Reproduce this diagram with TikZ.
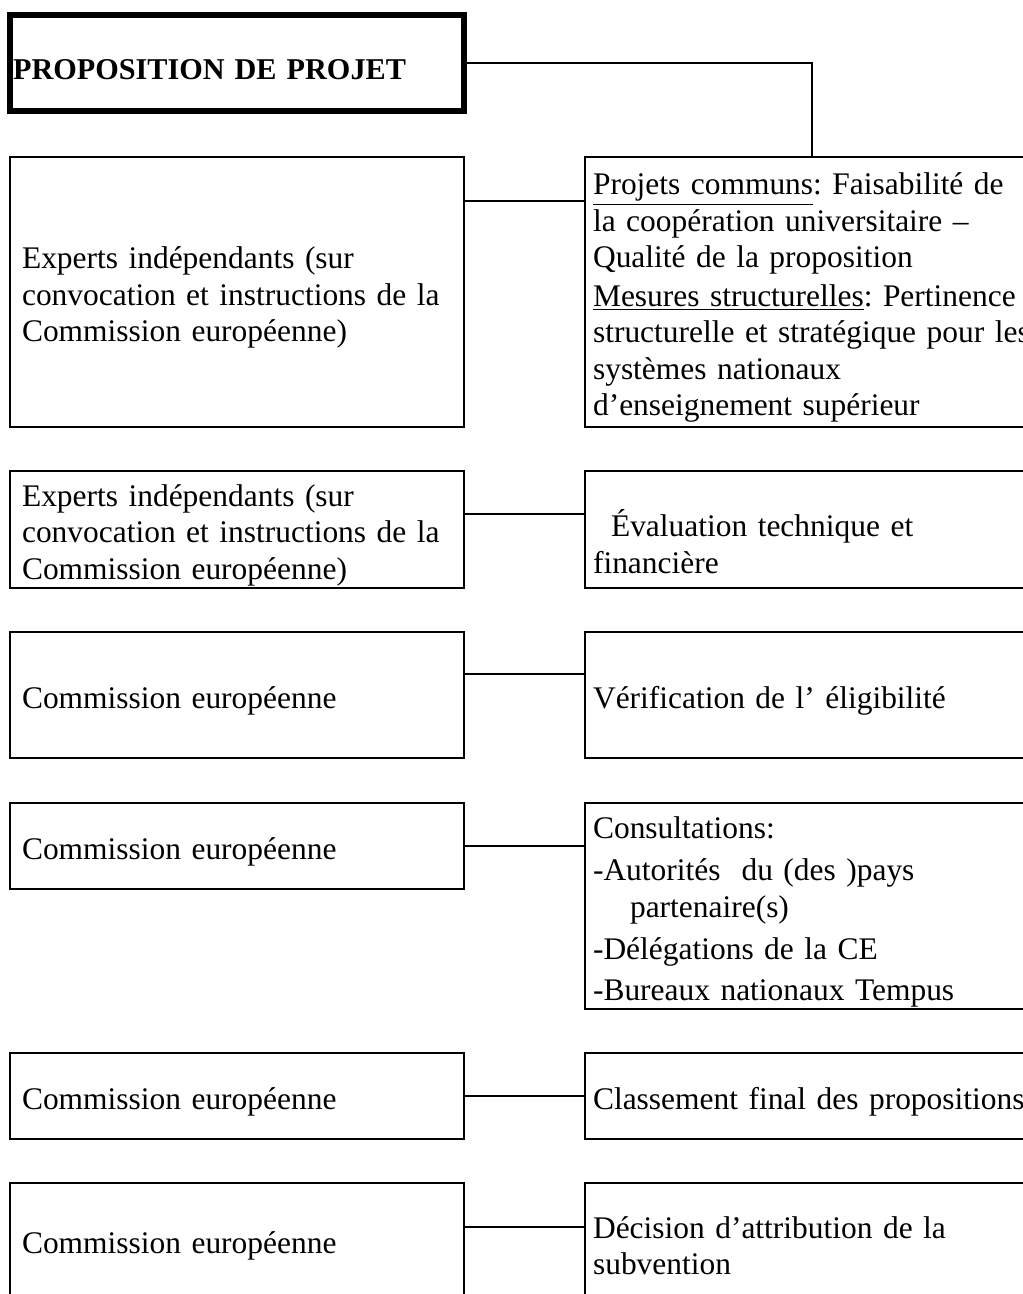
\documentclass[tikz,border=0pt]{standalone}
\usepackage{fontspec}
\setmainfont{Liberation Serif}

\begin{document}
\begin{tikzpicture}[x=0.02cm, y=-0.02cm,
	body/.style     = {font=\fontsize{17.9}{20.8}\selectfont\frenchspacing},
	basic/.style    = {draw, rectangle, line width=0.85pt, inner ysep=0pt, align=left, body, execute at begin node={\rule{0pt}{19pt}}},
	titlebox/.style = {draw, rectangle, line width=3.4pt, minimum width=9.08cm, minimum height=1.92cm, text width=8.96cm, inner xsep=0.06cm, align=left, font=\fontsize{17.2}{20}\selectfont\bfseries, text height=0.68cm, text depth=0pt},
	leftbox/.style  = {basic, minimum width=9.08cm, text width=8.6cm, inner xsep=0.24cm},
	rightbox/.style = {basic, minimum width=9.08cm, text width=8.76cm, inner xsep=0.16cm},
	link/.style     = {draw, line width=0.85pt}]

	\useasboundingbox (0,0) rectangle (1023,1294);
	\clip (0,0) rectangle (1023,1294);

	% the proposal on top
	\node[titlebox] (prop) at (237,63) {PROPOSITION DE PROJET};

	% who does it, left column
	\node[leftbox, minimum height=5.4cm]  (l1) at (237,292)  {Experts indépendants (sur\\convocation et instructions de la\\Commission européenne)};
	\node[leftbox, minimum height=2.34cm] (l2) at (237,529.5) {Experts indépendants (sur\\convocation et instructions de la\\Commission européenne)};
	\node[leftbox, minimum height=2.52cm] (l3) at (237,695)  {Commission européenne};
	\node[leftbox, minimum height=1.72cm] (l4) at (237,846)  {Commission européenne};
	\node[leftbox, minimum height=1.72cm] (l5) at (237,1096) {Commission européenne};
	\node[leftbox, minimum height=2.28cm] (l6) at (237,1240) {Commission européenne};

	% what is done, right column
	\node[rightbox, minimum height=5.4cm]  (r1) at (812,292)  {\underline{Projets communs}: Faisabilité de\\la coopération universitaire –\\Qualité de la proposition\\[1pt]\underline{Mesures structurelles}: Pertinence\\structurelle et stratégique pour les\\systèmes nationaux\\d’enseignement supérieur};
	\node[rightbox, minimum height=2.34cm] (r2) at (812,529.5) {\rule{0pt}{29pt}\hspace*{0.36cm}Évaluation technique et\\financière};
	\node[rightbox, minimum height=2.52cm] (r3) at (812,695)  {Vérification de l’ éligibilité};
	\node[rightbox, minimum height=4.12cm] (r4) at (812,906)  {Consultations:\\[3.4pt]-Autorités\ \ du (des )pays\\\hspace*{0.74cm}partenaire(s)\\[3.4pt]-Délégations de la CE\\[2.5pt]-Bureaux nationaux Tempus};
	\node[rightbox, minimum height=1.72cm] (r5) at (812,1096) {Classement final des propositions};
	\node[rightbox, minimum height=2.28cm] (r6) at (812,1240) {Décision d’attribution de la\\subvention};

	% lines
	\draw[link] (prop.east) -| (r1.north);
	\foreach \row/\yy in {1/201, 2/514, 3/674, 4/846, 5/1096, 6/1227}
	\draw[link] (l\row.east |- 0,\yy) -- (r\row.west |- 0,\yy);

\end{tikzpicture}
\end{document}
